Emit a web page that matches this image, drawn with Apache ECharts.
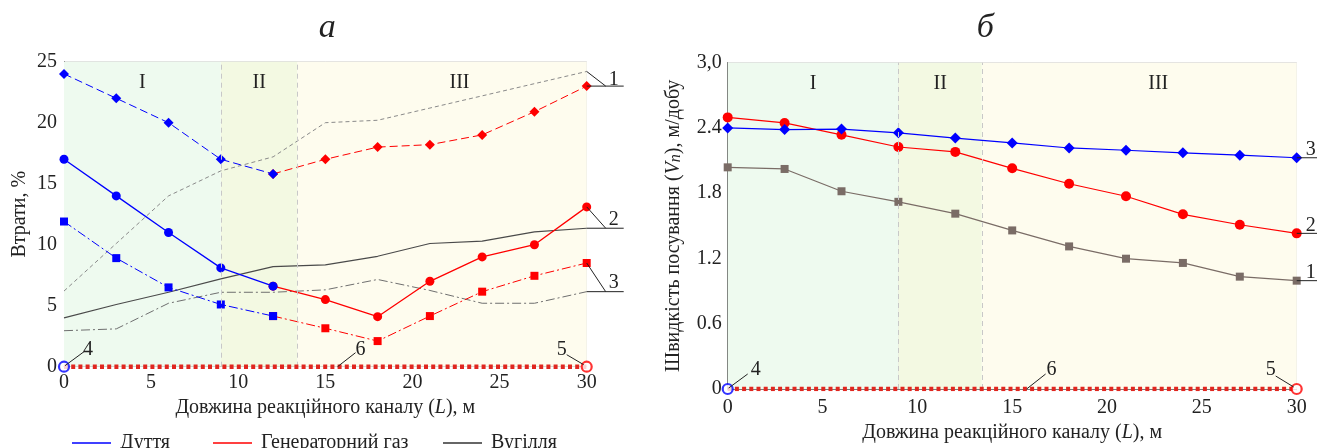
<!DOCTYPE html>
<html><head><meta charset="utf-8">
<script src="https://cdn.jsdelivr.net/npm/echarts@6/dist/echarts.min.js"></script>
<style>html,body{margin:0;padding:0;background:#fff}#c{width:1317px;height:448px}</style>
</head><body><div id="c"></div>
<script>
const FONT = '"Liberation Serif","Times New Roman",serif';
// ---- Chart а (losses, %) ----
const L = [0,3,6,9,12,15,18,21,24,27,30];
const blastL = [0,3,6,9,12];
const gasL = [12,15,18,21,24,27,30];
const blast1 = [24,22,20,17,15.8];
const gas1 = [15.8,17,18,18.2,19,20.9,23];
const blast2 = [17,14,11,8.1,6.6];
const gas2 = [6.6,5.5,4.1,7,9,10,13.1];
const blast3 = [11.9,8.9,6.5,5.1,4.15];
const gas3 = [4.15,3.15,2.1,4.15,6.15,7.45,8.5];
const coal1 = [6.2,10.1,14,16.05,17.2,20,20.2,21.2,22.2,23.2,24.2];
const coal2 = [4,5.1,6.1,7.2,8.2,8.35,9.05,10.1,10.3,11.05,11.35];
const coal3 = [2.95,3.1,5.2,6.1,6.1,6.3,7.15,6.25,5.2,5.2,6.15];
// ---- Chart б (advance speed, m/day) ----
const speedBlast = [2.40,2.385,2.39,2.355,2.307,2.262,2.216,2.195,2.171,2.15,2.126];
const speedGas = [2.497,2.446,2.337,2.225,2.18,2.029,1.887,1.772,1.606,1.51,1.431];
const speedCoal = [2.038,2.023,1.818,1.721,1.612,1.458,1.311,1.198,1.159,1.033,0.996];
// ---- shared ----
const zeroX = [0,30];
const zeroY = [0,0];
const zones = [0,9,13.4,30];
const zoneNames = ['I','II','III'];
const zoneLabelX = [4.5,11.2,22.7];
const yTicksB = ['0','0.6','1.2','1.8','2.4','3,0'];
const legendNames = ['Дуття','Генераторний газ','Вугілля'];

const zoneColors = ['#eefaef','#f3f9e2','#fefcee'];
const BLUE = '#0000ff', RED = '#ff0000', BROWN = '#7a6c66';
const FS = 20;
const pairs = (xs, ys) => xs.map((x,i)=>[x, ys[i]]);

const chart = echarts.init(document.getElementById('c'));

function zoneSeries(xi, yi){
  return {
    type:'line', xAxisIndex:xi, yAxisIndex:yi, data:[], z:-1, silent:true,
    markArea:{silent:true, data: zoneNames.map((n,i)=>[{xAxis:zones[i], itemStyle:{color:zoneColors[i]}},{xAxis:zones[i+1]}])},
    markLine:{silent:true, symbol:'none', label:{show:false},
      lineStyle:{color:'#c8c8c8', type:[5,4], width:1},
      data:[{xAxis:zones[1]},{xAxis:zones[2]}]}
  };
}
function ln(xi, yi, xs, ys, color, type, symbol, size, width){
  return {type:'line', xAxisIndex:xi, yAxisIndex:yi, data:pairs(xs,ys),
    symbol: symbol, symbolSize: size, showSymbol: symbol!=='none',
    lineStyle:{color:color, width:width||1, type:type}, itemStyle:{color:color},
    animation:false, silent:true};
}
const axisFont = {fontFamily:FONT, fontSize:FS, color:'#222'};
const rich = {n:{fontFamily:FONT,fontSize:FS,color:'#222'}, i:{fontFamily:FONT,fontSize:FS,fontStyle:'italic',color:'#222'}, s:{fontFamily:FONT,fontSize:16,fontStyle:'italic',color:'#222', verticalAlign:'bottom'}};

const option = {
  animation:false,
  grid:[
    {left:64, top:61.7, width:522.7, height:305},
    {left:727.7, top:62.7, width:569, height:331.3}
  ],
  xAxis:[
    {gridIndex:0, type:'value', min:0, max:30, interval:5,
      axisLine:{lineStyle:{color:'#777'}}, axisTick:{show:false},
      axisLabel:Object.assign({margin:6}, axisFont),
      splitLine:{lineStyle:{color:'#dcdcdc'}},
      name:'{n|Довжина реакційного каналу (}{i|L}{n|), м}', nameLocation:'middle', nameGap:28,
      nameTextStyle:{rich:rich}},
    {gridIndex:1, type:'value', min:0, max:30, interval:5,
      axisLine:{lineStyle:{color:'#777'}}, axisTick:{show:false},
      axisLabel:Object.assign({margin:9}, axisFont),
      splitLine:{show:false},
      name:'{n|Довжина реакційного каналу (}{i|L}{n|), м}', nameLocation:'middle', nameGap:34,
      nameTextStyle:{rich:rich}},
    {gridIndex:1, type:'value', min:0, max:30, interval:3,
      axisLine:{show:false}, axisTick:{show:false}, axisLabel:{show:false},
      splitLine:{lineStyle:{color:'#dcdcdc'}}}
  ],
  yAxis:[
    {gridIndex:0, type:'value', min:0, max:25, interval:5,
      axisLine:{show:true, lineStyle:{color:'#555'}}, axisTick:{show:false},
      axisLabel:Object.assign({margin:7}, axisFont),
      splitLine:{lineStyle:{color:'#dcdcdc'}},
      name:'Втрати, %', nameLocation:'middle', nameGap:34, nameTextStyle:axisFont},
    {gridIndex:1, type:'value', min:0, max:3, interval:0.6,
      axisLine:{show:true, lineStyle:{color:'#555'}}, axisTick:{show:false},
      axisLabel:Object.assign({margin:6, formatter:(v,i)=>yTicksB[i]}, axisFont),
      splitLine:{lineStyle:{color:'#dcdcdc'}},
      name:'{n|Швидкість посування (}{i|V}{s|n}{n|), м/добу}', nameLocation:'middle', nameGap:44,
      nameTextStyle:{rich:rich}}
  ],
  legend: legendNames.map((n,i)=>({
    data:[n], left:[72,213,443][i], top:433, padding:0, icon:'rect', itemWidth:39, itemHeight:1.5, itemGap:9,
    textStyle:{fontFamily:FONT, fontSize:FS, color:'#222', padding:[0,0,0,4]}, selectedMode:false
  })),
  series:[
    zoneSeries(0,0),
    zoneSeries(2,1),
    // legend-only
    {name:'Дуття', type:'line', xAxisIndex:0, yAxisIndex:0, data:[], symbol:'none', lineStyle:{color:BLUE,width:1.3}, itemStyle:{color:BLUE}},
    {name:'Генераторний газ', type:'line', xAxisIndex:0, yAxisIndex:0, data:[], symbol:'none', lineStyle:{color:RED,width:1.3}, itemStyle:{color:RED}},
    {name:'Вугілля', type:'line', xAxisIndex:0, yAxisIndex:0, data:[], symbol:'none', lineStyle:{color:'#333',width:1.3}, itemStyle:{color:'#333'}},
    // chart а: coal
    ln(0,0,L,coal1,'#8a8a8a',[4,3],'none',0,1),
    ln(0,0,L,coal2,'#4a4a4a','solid','none',0,1.2),
    ln(0,0,L,coal3,'#6f6f6f',[9,3,2,3],'none',0,1),
    // chart а: gas (drawn before blast so blast markers stay on top)
    ln(0,0,gasL,gas1,RED,[8,4],'diamond',10,1),
    ln(0,0,gasL,gas2,RED,'solid','circle',9,1.3),
    ln(0,0,gasL,gas3,RED,[9,3,2,3],'rect',8,1),
    ln(0,0,blastL,blast1,BLUE,[8,4],'diamond',10,1),
    ln(0,0,blastL,blast2,BLUE,'solid','circle',9,1.3),
    ln(0,0,blastL,blast3,BLUE,[9,3,2,3],'rect',8,1),
    // chart б
    ln(1,1,L,speedCoal,BROWN,'solid','rect',8,1.2),
    ln(1,1,L,speedGas,RED,'solid','circle',10,1.2),
    ln(1,1,L,speedBlast,BLUE,'solid','diamond',11,1.2),
    // zero lines & end circles
    Object.assign(ln(0,0,zeroX,zeroY,'#e0261f',[4,3.2],'none',0,4.5),{z:5}),
    Object.assign(ln(1,1,zeroX,zeroY,'#e0261f',[4,3.2],'none',0,4.5),{z:5}),
    {type:'scatter', xAxisIndex:0, yAxisIndex:0, data:[[zeroX[0],zeroY[0]]], symbolSize:10, z:6, itemStyle:{color:'#fff', borderColor:BLUE, borderWidth:2.2}},
    {type:'scatter', xAxisIndex:0, yAxisIndex:0, data:[[zeroX[1],zeroY[1]]], symbolSize:10, z:6, itemStyle:{color:'#fff', borderColor:RED, borderWidth:2.2}},
    {type:'scatter', xAxisIndex:1, yAxisIndex:1, data:[[zeroX[0],zeroY[0]]], symbolSize:10, z:6, itemStyle:{color:'#fff', borderColor:BLUE, borderWidth:2.2}},
    {type:'scatter', xAxisIndex:1, yAxisIndex:1, data:[[zeroX[1],zeroY[1]]], symbolSize:10, z:6, itemStyle:{color:'#fff', borderColor:RED, borderWidth:2.2}}
  ]
};
chart.setOption(option);

// ---- annotations (positions derived from data through the axes) ----
const P0 = pt => chart.convertToPixel({xAxisIndex:0, yAxisIndex:0}, pt);
const P1 = pt => chart.convertToPixel({xAxisIndex:1, yAxisIndex:1}, pt);
const last = a => a[a.length-1];
const G = [];
const line = (x1,y1,x2,y2) => G.push({type:'line', silent:true, z:50, shape:{x1,y1,x2,y2}, style:{stroke:'#222', lineWidth:1}});
const text = (t,x,y,size,italic) => G.push({type:'text', silent:true, z:50, x:x, y:y,
  style:{text:t, font:(italic?'italic ':'')+size+'px '+FONT, fill:'#222', textAlign:'center', textVerticalAlign:'middle', align:'center', verticalAlign:'middle'}});

// titles
text('а', P0([15,0])[0]+2, 28, 34, true);
text('б', P1([15,0])[0]-27, 28, 34, true);
// zone labels
zoneNames.forEach((n,i)=>{ const a=P0([zoneLabelX[i],23.3]); text(n,a[0],a[1],FS); const b=P1([zoneLabelX[i],2.81]); text(n,b[0],b[1],FS); });

// chart а right-side labels 1,2,3
[[coal1,gas1,'1',-6],[gas2,coal2,'2',-8],[gas3,coal3,'3',-9]].forEach(([from,to,t,dy])=>{
  const s = P0([30,last(from)]); const hy = P0([30,last(to)])[1];
  line(s[0],s[1],s[0]+19,hy); line(s[0],hy,s[0]+37,hy); text(t,s[0]+27,hy+dy,FS);
});
// chart а labels 4,6,5
{ const o=P0([zeroX[0],0]); line(o[0]+1,o[1]-1,o[0]+20,o[1]-15); text('4',o[0]+24,o[1]-17,FS);
  const m=P0([15.7,0]); line(m[0],m[1],m[0]+18,m[1]-14); text('6',m[0]+23,m[1]-17,FS);
  const e=P0([zeroX[1],0]); line(e[0]-20,e[1]-12,e[0]-3,e[1]-2); text('5',e[0]-25,e[1]-17,FS); }

// chart б right-side labels 3,2,1
[[speedBlast,'3'],[speedGas,'2'],[speedCoal,'1']].forEach(([arr,t])=>{
  const s=P1([30,last(arr)]); line(s[0],s[1],s[0]+22,s[1]); text(t,s[0]+14,s[1]-8,FS);
});
{ const o=P1([zeroX[0],0]); line(o[0]+1,o[1]-1,o[0]+20,o[1]-15); text('4',o[0]+28,o[1]-19,FS);
  const m=P1([15.76,0]); line(m[0],m[1],m[0]+19,m[1]-15); text('6',m[0]+25,m[1]-19,FS);
  const e=P1([zeroX[1],0]); line(e[0]-21,e[1]-13,e[0]-3,e[1]-2); text('5',e[0]-26,e[1]-19,FS); }

chart.setOption({graphic:G});
</script></body></html>
